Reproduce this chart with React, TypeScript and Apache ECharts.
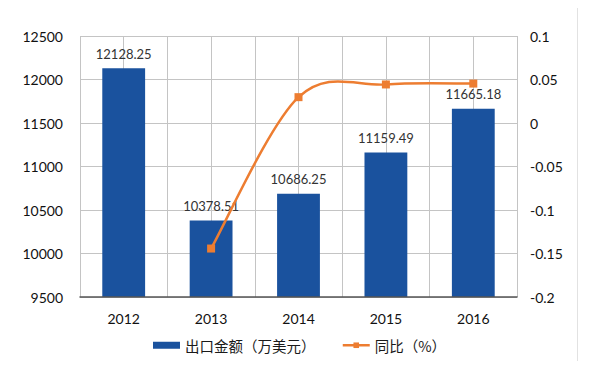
import React, { useEffect, useRef } from "react";
import * as echarts from "echarts";

const categories = ["2012", "2013", "2014", "2015", "2016"];
const exportValues = [12128.25, 10378.51, 10686.25, 11159.49, 11665.18];
const yoyValues: (number | null)[] = [null, -0.1443, 0.0297, 0.0443, 0.0453];
const barName = "出口金额（万美元）";
const lineName = "同比（%）";

const FONT = "Lato, 'Noto Sans CJK SC', sans-serif";
const CJK = "'Noto Sans CJK SC', sans-serif";
const ORANGE = "#ed7d31";
const BLUE = "#1a529e";

export default function App() {
  const ref = useRef<HTMLDivElement>(null);
  useEffect(() => {
    if (!ref.current) return;
    const chart = echarts.init(ref.current, undefined, { renderer: "svg" });

    // Excel-like Catmull-Rom smoothing drawn through the chart's own scales
    const renderSmooth = (params: any, api: any) => {
      if (params.dataIndex !== 0) return null;
      const pts: number[][] = [];
      yoyValues.forEach((v, i) => {
        if (v !== null) pts.push(api.coord([i, v]));
      });
      const children: any[] = [];
      for (let i = 0; i < pts.length - 1; i++) {
        const p0 = pts[Math.max(0, i - 1)];
        const p1 = pts[i];
        const p2 = pts[i + 1];
        const p3 = pts[Math.min(pts.length - 1, i + 2)];
        children.push({
          type: "bezierCurve",
          shape: {
            x1: p1[0],
            y1: p1[1],
            cpx1: p1[0] + (p2[0] - p0[0]) / 6,
            cpy1: p1[1] + (p2[1] - p0[1]) / 6,
            cpx2: p2[0] - (p3[0] - p1[0]) / 6,
            cpy2: p2[1] - (p3[1] - p1[1]) / 6,
            x2: p2[0],
            y2: p2[1],
          },
          style: { stroke: ORANGE, lineWidth: 2.5, fill: null },
        });
      }
      return { type: "group", children };
    };

    chart.setOption({
      animation: false,
      backgroundColor: "#ffffff",
      graphic: [
        {
          type: "rect",
          shape: { x: 2.5, y: 1.5, width: 575, height: 364 },
          style: { fill: "none", stroke: "#e2e2e2", lineWidth: 1 },
          silent: true,
          z: -1,
        },
      ],
      grid: { left: 80, right: 83, top: 36, bottom: 72, containLabel: false },
      legend: {
        top: 338,
        left: 153,
        padding: 0,
        itemGap: 26,
        textStyle: { fontFamily: CJK, fontSize: 14.5, color: "#1a1a1a" },
        data: [
          { name: barName, icon: "rect", itemStyle: { color: BLUE } },
          {
            name: lineName,
            lineStyle: { color: ORANGE, width: 2.5, opacity: 1 },
            itemStyle: { color: ORANGE },
          },
        ],
        itemWidth: 27,
        itemHeight: 7,
      },
      xAxis: [
        {
          type: "category",
          data: categories,
          axisLine: { show: true, onZero: false, lineStyle: { color: "#555", width: 1.5 } },
          axisTick: { show: false },
          axisLabel: { fontFamily: FONT, fontSize: 14, color: "#111", margin: 14 },
          splitLine: { show: false },
          z: 5,
        },
        {
          type: "value",
          min: 0,
          max: 10,
          interval: 1,
          position: "bottom",
          axisLine: { show: false },
          axisTick: { show: false },
          axisLabel: { show: false },
          splitLine: { show: true, lineStyle: { color: "#c4c4c4", width: 1 } },
        },
      ],
      yAxis: [
        {
          type: "value",
          min: 9500,
          max: 12500,
          interval: 500,
          axisLine: { show: false },
          axisTick: { show: false },
          axisLabel: {
            fontFamily: FONT,
            fontSize: 14,
            color: "#111",
            margin: 17,
            formatter: (v: number) => String(v),
          },
          splitLine: { show: true, lineStyle: { color: "#c4c4c4", width: 1 } },
        },
        {
          type: "value",
          min: -0.2,
          max: 0.1,
          interval: 0.05,
          position: "right",
          axisLine: { show: false },
          axisTick: { show: false },
          axisLabel: {
            fontFamily: FONT,
            fontSize: 14,
            color: "#111",
            margin: 13,
            formatter: (v: number) => String(Math.round(v * 100) / 100),
          },
          splitLine: { show: false },
        },
      ],
      series: [
        {
          name: barName,
          type: "bar",
          xAxisIndex: 0,
          yAxisIndex: 0,
          data: exportValues,
          barWidth: "49%",
          itemStyle: { color: BLUE },
          label: {
            show: true,
            position: "top",
            distance: 8,
            fontFamily: FONT,
            fontSize: 13,
            color: "#333",
            formatter: (p: any) => p.value.toFixed(2),
          },
          z: 2,
        },
        {
          name: "smooth",
          type: "custom",
          xAxisIndex: 0,
          yAxisIndex: 1,
          data: [[1, yoyValues[1]]],
          renderItem: renderSmooth,
          clip: false,
          silent: true,
          z: 3,
        },
        {
          name: lineName,
          type: "line",
          xAxisIndex: 0,
          yAxisIndex: 1,
          data: yoyValues,
          symbol: "rect",
          symbolSize: 8,
          lineStyle: { color: ORANGE, width: 2.5, opacity: 0 },
          itemStyle: { color: ORANGE },
          z: 4,
        },
      ],
    });
    return () => chart.dispose();
  }, []);
  return <div ref={ref} style={{ width: 600, height: 369, margin: -8 }} />;
}
